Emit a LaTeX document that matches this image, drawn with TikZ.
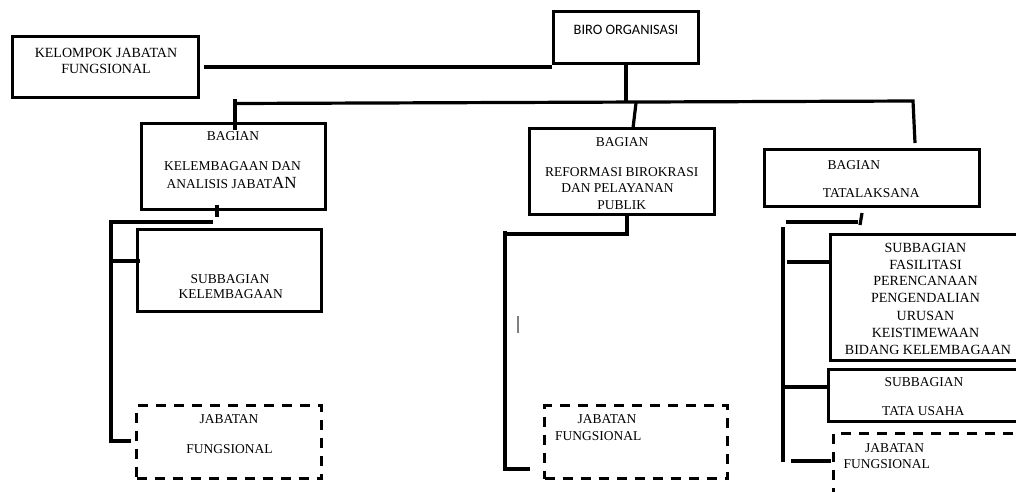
\documentclass[tikz,border=0pt]{standalone}
\usepackage{fontspec}
\setmainfont{Liberation Serif}
\newfontfamily\titlesans{Carlito}
\begin{document}
\begin{tikzpicture}[x=1pt,y=-1pt,
  unit/.style={draw, line width=3.2pt, inner sep=0pt},
  dashunit/.style={unit, dash pattern=on 10pt off 8pt},
  conn/.style={line width=3.2pt},
  txt/.style={anchor=base, inner sep=0pt, font=\fontsize{13.5}{16}\selectfont},
  txtl/.style={txt, anchor=base west},
  bigtxt/.style={txt, font=\fontsize{14}{17}\selectfont}]
\path[use as bounding box, clip] (0,0) rectangle (1016,491);

% ---- organisation units ----
\node[unit, minimum width=186pt, minimum height=61pt] (kjf)  at (105.5,67) {};
\node[unit, minimum width=145pt, minimum height=52pt] (biro) at (626,37.5) {};
\node[unit, minimum width=184pt, minimum height=86pt] (bkel) at (233.5,166.5) {};
\node[unit, minimum width=185pt, minimum height=86pt] (bref) at (622,171.5) {};
\node[unit, minimum width=215pt, minimum height=57pt] (btata) at (872,178) {};
\node[unit, minimum width=184pt, minimum height=82pt] (skel) at (229.5,270.5) {};
\node[dashunit, minimum width=185pt, minimum height=73pt] (jf1) at (229,442) {};
\node[dashunit, minimum width=183pt, minimum height=73pt] (jf2) at (636,442) {};
\node[unit, minimum width=190pt, minimum height=126pt] (sfas) at (925.5,297.5) {};
\node[unit, minimum width=192pt, minimum height=52pt] (stu) at (924.5,395.5) {};
\node[dashunit, minimum width=191.5pt, minimum height=66.5pt] (jf3) at (929.25,466.75) {};

% ---- labels ----
\node[bigtxt] (kjf1) at (106,57) {KELOMPOK JABATAN};
\node[bigtxt] (kjf2) at (106,73) {FUNGSIONAL};
\node[txt, font=\titlesans\fontsize{14.4}{17}\selectfont] (birot) at (626,34) {BIRO ORGANISASI};

\node[txt] (bkel1) at (233,140) {BAGIAN};
\node[txt] (bkel2) at (232.5,170) {KELEMBAGAAN DAN};
\node[txt] (bkel3) at (231.7,188.5) {ANALISIS JABAT{\fontsize{17}{17}\selectfont AN}};
\node[txt] (skel1) at (230,283) {SUBBAGIAN};
\node[txt] (skel2) at (230.8,298) {KELEMBAGAAN};
\node[txt] (jf1a) at (229,423) {JABATAN};
\node[txt] (jf1b) at (229.5,453) {FUNGSIONAL};

\node[txt] (bref1) at (622,146) {BAGIAN};
\node[txt] (bref2) at (621.7,176) {REFORMASI BIROKRASI};
\node[txt] (bref3) at (617.5,192.7) {DAN PELAYANAN};
\node[txt] (bref4) at (621.7,209) {PUBLIK};
\node[txtl] (jf2a) at (577.3,423.3) {JABATAN};
\node[txtl] (jf2b) at (555,440.7) {FUNGSIONAL};

\node[txt] (bt1) at (853.8,169.3) {BAGIAN};
\node[txt] (bt2) at (871.3,197.3) {TATALAKSANA};
\node[bigtxt] (sf1) at (925.5,252.3) {SUBBAGIAN};
\node[bigtxt] (sf2) at (925.5,269) {FASILITASI};
\node[bigtxt] (sf3) at (925.5,285.7) {PERENCANAAN};
\node[bigtxt] (sf4) at (925.5,302.7) {PENGENDALIAN};
\node[bigtxt] (sf5) at (925.5,320) {URUSAN};
\node[bigtxt] (sf6) at (925.5,337.3) {KEISTIMEWAAN};
\node[bigtxt] (sf7) at (928,354) {BIDANG KELEMBAGAAN};
\node[txt] (stu1) at (924,386.7) {SUBBAGIAN};
\node[txt] (stu2) at (923.3,415) {TATA USAHA};
\node[txtl] (jf3a) at (865,452.7) {JABATAN};
\node[txtl] (jf3b) at (843.3,468.3) {FUNGSIONAL};

% ---- connector points ----
\coordinate (kjfout) at (204,67);
\coordinate (busL) at (235,103.5);
\coordinate (busR) at (913,101);
\coordinate (tickL) at (235,99);
\coordinate (bkelIn) at (235,130);
\coordinate (brefA) at (636,103);
\coordinate (brefB) at (633,128);
\coordinate (tataEnd) at (915,143);
% left branch
\coordinate (bkA) at (217,205);
\coordinate (bkB) at (217,217);
\coordinate (lhA) at (213,222);
\coordinate (lhB) at (111,222);
\coordinate (lvEnd) at (111,441);
\coordinate (jf1In) at (131,441);
\coordinate (lsk) at (111,261);
\coordinate (skIn) at (140,261);
% middle branch
\coordinate (mA) at (627,214);
\coordinate (mB) at (627,234);
\coordinate (mC) at (507,234);
\coordinate (mvTop) at (505,231);
\coordinate (mvEnd) at (505,469);
\coordinate (jf2In) at (530,469);
\coordinate (mk1) at (518,316);
\coordinate (mk2) at (518,333);
% right branch
\coordinate (rtA) at (862,213);
\coordinate (rtB) at (860,225);
\coordinate (rhA) at (858,222);
\coordinate (rhB) at (786,222);
\coordinate (rvTop) at (783,227);
\coordinate (rvEnd) at (783,462);
\coordinate (rsf) at (787,262);
\coordinate (sfIn) at (832,262);
\coordinate (rst) at (784,387);
\coordinate (stIn) at (830,387);
\coordinate (rjf) at (791,461);
\coordinate (jf3In) at (831,461);

% ---- connectors ----
\draw[conn] (kjfout) -- (kjfout -| biro.west);
\draw[conn] (biro.south) -- (biro.south |- busR);
\draw[conn] (busL) -- (busR) -- (tataEnd);
\draw[conn] (tickL) -- (bkelIn);
\draw[conn] (brefA) -- (brefB);

\draw[conn] (bkA) -- (bkB);
\draw[conn] (lhA) -- (lhB) -- (lvEnd) -- (jf1In);
\draw[conn] (lsk) -- (skIn);

\draw[conn] (mA) -- (mB) -- (mC);
\draw[conn] (mvTop) -- (mvEnd) -- (jf2In);
\draw[gray, line width=1.2pt] (mk1) -- (mk2);

\draw[conn] (rtA) -- (rtB);
\draw[conn] (rhA) -- (rhB);
\draw[conn] (rvTop) -- (rvEnd);
\draw[conn] (rsf) -- (sfIn);
\draw[conn] (rst) -- (stIn);
\draw[conn] (rjf) -- (jf3In);
\end{tikzpicture}
\end{document}
